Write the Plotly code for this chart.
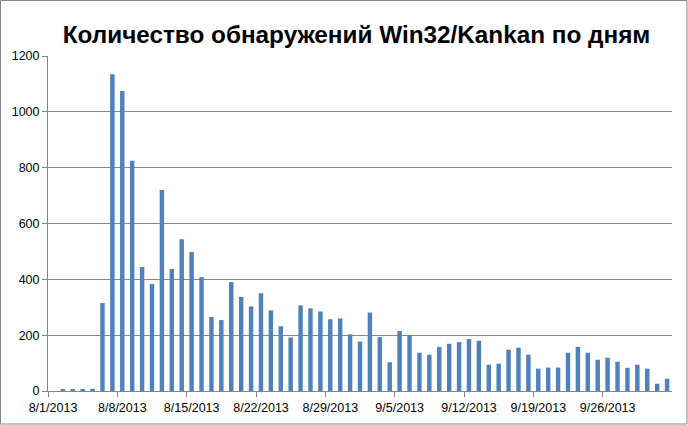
import datetime as dt
import plotly.graph_objects as go

# ---- data ----
start_date = "2013-08-01"
daily_counts = [
    0, 4, 4, 4, 8, 315, 1135, 1075, 825, 444, 383, 720, 437, 544, 498, 408,
    265, 254, 390, 337, 303, 350, 289, 232, 192, 307, 296, 285, 257, 260, 203,
    177, 281, 193, 103, 215, 200, 137, 130, 158, 169, 175, 186, 180, 94, 98,
    148, 155, 130, 80, 84, 84, 137, 158, 137, 112, 119, 105, 83, 94, 80,
    26, 44,
]
tick_dates = ["2013-08-01", "2013-08-08", "2013-08-15", "2013-08-22",
              "2013-08-29", "2013-09-05", "2013-09-12", "2013-09-19",
              "2013-09-26"]
tick_labels = ["8/1/2013", "8/8/2013", "8/15/2013", "8/22/2013",
               "8/29/2013", "9/5/2013", "9/12/2013", "9/19/2013",
               "9/26/2013"]
y_ticks = [0, 200, 400, 600, 800, 1000, 1200]
title_text = "Количество обнаружений Win32/Kankan по дням"

# ---- build ----
d0 = dt.datetime.strptime(start_date, "%Y-%m-%d")
# bars sit in the middle of each day slot (Excel date axis style)
x_vals = [d0 + dt.timedelta(days=i, hours=12) for i in range(len(daily_counts))]
x_end = d0 + dt.timedelta(days=len(daily_counts))

grid = "#868686"
fig = go.Figure(go.Bar(
    x=x_vals, y=daily_counts,
    marker=dict(color="#4F81BD", line=dict(width=0)),
))

fig.update_layout(
    width=688, height=425,
    margin=dict(l=48, r=16, t=56, b=34, autoexpand=False),
    paper_bgcolor="white", plot_bgcolor="white",
    bargap=0.55,
    showlegend=False,
    font=dict(family="Liberation Sans, Arial, sans-serif", size=12, color="black"),
    title=dict(
        text=title_text,
        font=dict(family="Liberation Sans, Arial, sans-serif", size=24.3,
                  color="black", weight="bold"),
        x=356.5 / 688, xref="container", xanchor="center",
        y=1 - 34 / 425, yref="container", yanchor="middle",
    ),
    xaxis=dict(
        type="date", automargin=False,
        range=[d0, x_end],
        tickvals=tick_dates, ticktext=tick_labels,
        ticks="outside", ticklen=5, tickcolor=grid,
        ticklabelshift=5,
        showline=True, linecolor=grid, linewidth=1,
        showgrid=False, zeroline=False,
        tickfont=dict(size=12.5),
    ),
    yaxis=dict(
        range=[0, 1200], automargin=False,
        tickvals=y_ticks,
        ticks="outside", ticklen=5, tickcolor=grid,
        showline=True, linecolor=grid, linewidth=1,
        showgrid=True, gridcolor=grid, gridwidth=1,
        zeroline=False,
        tickfont=dict(size=12.5),
    ),
    shapes=[dict(
        type="rect", xref="paper", yref="paper",
        x0=(0.5 - 48) / 624, x1=(687 - 48) / 624,
        y0=(391 - 424) / 335, y1=(391 - 0.5) / 335,
        line=dict(color=grid, width=1), fillcolor="rgba(0,0,0,0)",
        layer="below",
    )],
)

fig.write_html(
    "out.html",
    config={"displayModeBar": False},
    post_script="document.body.style.margin='0';document.body.style.padding='0';",
)
